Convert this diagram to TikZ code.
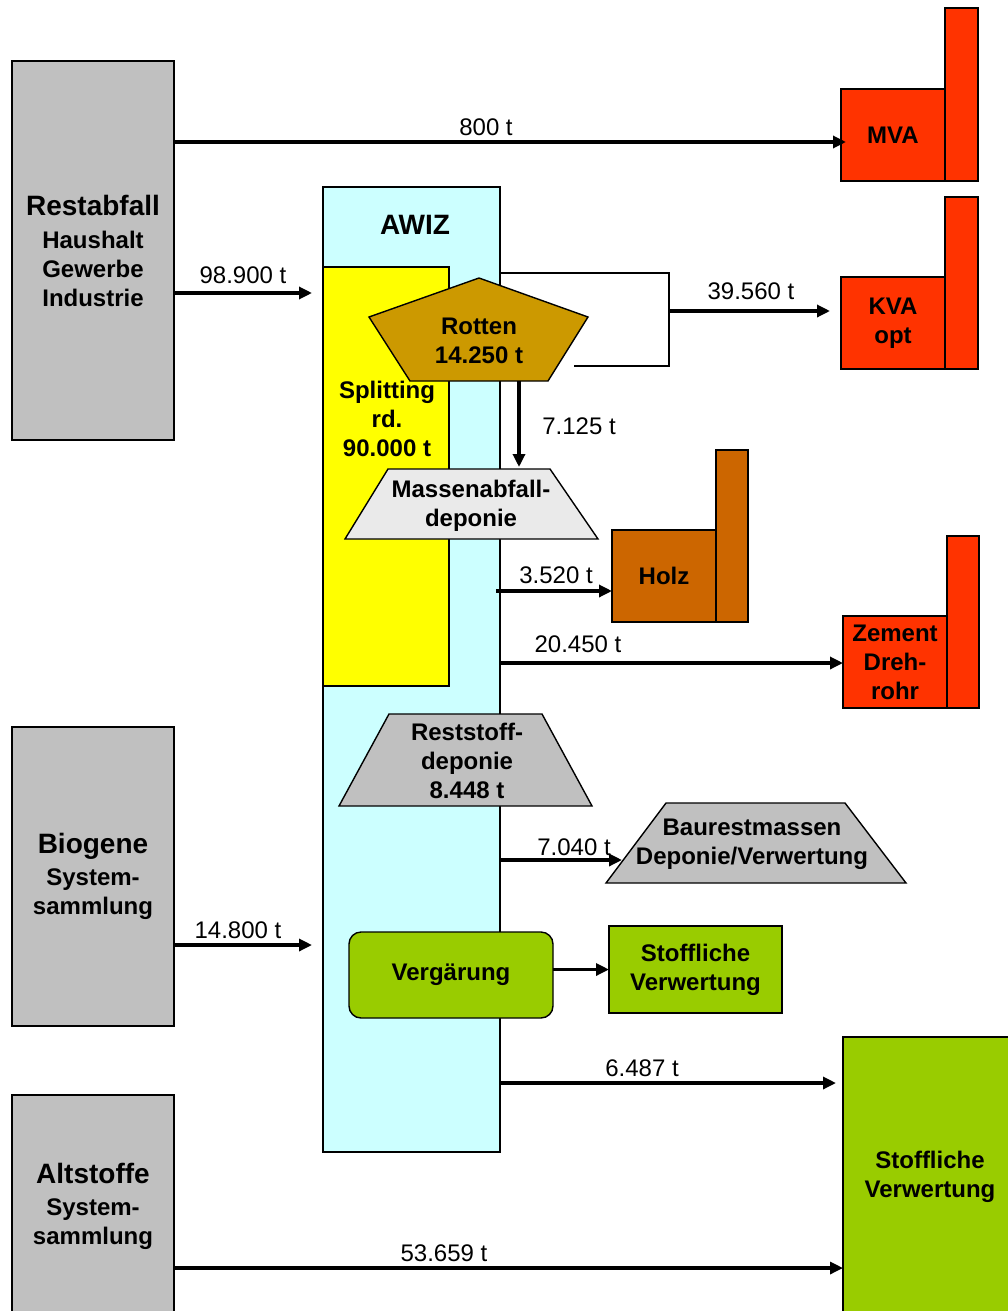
\documentclass[tikz,border=0pt]{standalone}
\usepackage{fontspec}
\setmainfont[Ligatures=NoCommon]{Liberation Sans}
\usetikzlibrary{arrows.meta}
\definecolor{boxgray}{HTML}{C0C0C0}
\definecolor{awizcyan}{HTML}{CCFFFF}
\definecolor{splityellow}{HTML}{FFFF00}
\definecolor{rottenbrown}{HTML}{CC9900}
\definecolor{massengray}{HTML}{EAEAEA}
\definecolor{holzbrown}{HTML}{CC6600}
\definecolor{firered}{HTML}{FF3300}
\definecolor{verwgreen}{HTML}{99CC00}
\begin{document}
\begin{tikzpicture}[x=1pt,y=-1pt,
  shapebox/.style={draw=black, line width=1.4pt, inner sep=0pt, outer sep=0pt, anchor=north west, align=center, font=\bfseries\fontsize{24}{29}\selectfont},
  txt/.style={inner sep=0pt, align=center, font=\bfseries\fontsize{24}{29}\selectfont},
  qty/.style={inner sep=0pt, font=\fontsize{24}{28}\selectfont},
  flow/.style={line width=3.2pt, -{Triangle[length=13pt,width=12pt]}},
  thinline/.style={line width=1.4pt},
  outline/.style={draw=black, line width=1.4pt, line join=miter}]
\useasboundingbox (0,0) rectangle (1008,1311);
\clip (0,0) rectangle (1008,1311);

% sources
\node[shapebox, fill=boxgray, minimum width=162pt, minimum height=379pt] (rest) at (12,61)
  {{\fontsize{28}{33}\selectfont Restabfall}\\[4pt]Haushalt\\Gewerbe\\Industrie};
\node[shapebox, fill=boxgray, minimum width=162pt, minimum height=299pt] (bio) at (12,727)
  {{\fontsize{28}{33}\selectfont Biogene}\\[3pt]System-\\sammlung};
\node[shapebox, fill=boxgray, minimum width=162pt, minimum height=222pt] (alt) at (12,1095)
  {{\fontsize{28}{33}\selectfont Altstoffe}\\[3pt]System-\\sammlung};

% AWIZ
\node[shapebox, fill=awizcyan, minimum width=177pt, minimum height=965pt] (awiz) at (323,187) {};
\node[txt, font=\bfseries\fontsize{28}{33}\selectfont] (awizlbl) at (415,225) {AWIZ};
\node[shapebox, fill=splityellow, minimum width=126pt, minimum height=419pt] (split) at (323,267) {};
\node[txt] (splitlbl) at (387,419) {Splitting\\rd.\\90.000 t};

% Rotten pentagon
\draw[outline, fill=rottenbrown] (479,278) -- (588,317) -- (548,381) -- (410,381) -- (369,317) -- cycle;
\node[txt] (rotten) at (479,341) {Rotten\\14.250 t};

% Massenabfalldeponie
\draw[outline, fill=massengray] (388,469) -- (550,469) -- (598,539) -- (345,539) -- cycle;
\node[txt] (massen) at (471,506) {Massenabfall-\\deponie};

% Reststoffdeponie
\draw[outline, fill=boxgray] (389,714) -- (542,714) -- (592,806) -- (339,806) -- cycle;
\node[txt] (reststoff) at (467,761) {Reststoff-\\deponie\\8.448 t};

% Baurestmassen
\draw[outline, fill=boxgray] (666,803) -- (845,803) -- (906,883) -- (606,883) -- cycle;
\node[txt] (baurest) at (752,844) {Baurestmassen\\Deponie/Verwertung};

% Vergaerung
\node[shapebox, fill=verwgreen, rounded corners=12pt, minimum width=204pt, minimum height=86pt] (verg) at (349,932) {Vergärung};
\node[shapebox, fill=verwgreen, minimum width=173pt, minimum height=87pt] (stoff1) at (609,926) {Stoffliche\\Verwertung};
\node[shapebox, fill=verwgreen, minimum width=174pt, minimum height=280pt] (stoff2) at (843,1037) {Stoffliche\\Verwertung};

% furnaces
\node[shapebox, fill=firered, minimum width=104pt, minimum height=92pt] (mva) at (841,89) {MVA};
\node[shapebox, fill=firered, minimum width=33pt, minimum height=173pt] (mvachim) at (945,8) {};
\node[shapebox, fill=firered, minimum width=104pt, minimum height=92pt] (kva) at (841,277) {KVA\\opt};
\node[shapebox, fill=firered, minimum width=33pt, minimum height=172pt] (kvachim) at (945,197) {};
\node[shapebox, fill=holzbrown, minimum width=104pt, minimum height=92pt] (holz) at (612,530) {Holz};
\node[shapebox, fill=holzbrown, minimum width=32pt, minimum height=172pt] (holzchim) at (716,450) {};
\node[shapebox, fill=firered, minimum width=104pt, minimum height=92pt] (zement) at (843,616) {Zement\\Dreh-\\rohr};
\node[shapebox, fill=firered, minimum width=32pt, minimum height=172pt] (zementchim) at (947,536) {};

% connectors
\coordinate (mvain) at (846,142);
\draw[flow] (rest.east |- mvain) -- (mvain);
\node[qty] (q800) at (486,127) {800 t};

\coordinate (awizin1) at (312,293);
\draw[flow] (rest.east |- awizin1) -- (awizin1);
\node[qty] (q989) at (243,275) {98.900 t};

\coordinate (loopa) at (500,273);
\coordinate (loopb) at (669,273);
\coordinate (loopc) at (669,366);
\coordinate (loopd) at (574,366);
\draw[thinline] (loopa) -- (loopb) -- (loopc) -- (loopd);
\coordinate (kvain) at (830,311);
\draw[flow] (loopb |- kvain) -- (kvain);
\node[qty] (q3956) at (751,291) {39.560 t};

\coordinate (rotout) at (519,381);
\coordinate (masin) at (519,467);
\draw[flow] (rotout) -- (masin);
\node[qty] (q7125) at (579,426) {7.125 t};

\coordinate (holzout) at (496,591);
\draw[flow] (holzout) -- (holz.west |- holzout);
\node[qty] (q3520) at (556,575) {3.520 t};

\coordinate (zemout) at (500,663);
\draw[flow] (zemout) -- (zement.west |- zemout);
\node[qty] (q20450) at (578,644) {20.450 t};

\coordinate (baurout) at (500,860);
\coordinate (baurin) at (622,860);
\draw[flow] (baurout) -- (baurin);
\node[qty] (q7040) at (574,847) {7.040 t};

\coordinate (awizin2) at (312,945);
\draw[flow] (bio.east |- awizin2) -- (awizin2);
\node[qty] (q14800) at (238,930) {14.800 t};

\draw[flow] (verg.east |- stoff1.west) -- (stoff1.west);

\coordinate (stoffin1) at (836,1083);
\draw[flow] (awiz.east |- stoffin1) -- (stoffin1);
\node[qty] (q6487) at (642,1068) {6.487 t};

\coordinate (stoffin2) at (843,1268);
\draw[flow] (alt.east |- stoffin2) -- (stoffin2);
\node[qty] (q53659) at (444,1253) {53.659 t};
\end{tikzpicture}
\end{document}
